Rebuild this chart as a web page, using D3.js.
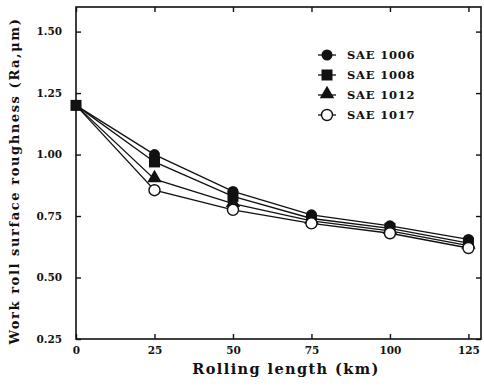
<!DOCTYPE html>
<html>
<head>
<meta charset="utf-8">
<script src="https://cdn.jsdelivr.net/npm/d3@7"></script>
<style>
  body { margin: 0; background: #fff; }
  svg { display: block; }
  text { font-family: "DejaVu Serif", "Liberation Serif", serif; font-weight: bold; fill: #111; }
</style>
</head>
<body>
<script>
var km = [0, 25, 50, 75, 100, 125]
var sae1006 = [1.20, 1.00, 0.85, 0.755, 0.71, 0.655]
var sae1008 = [1.20, 0.97, 0.83, 0.74, 0.70, 0.64]
var sae1012 = [1.20, 0.90, 0.80, 0.73, 0.69, 0.63]
var sae1017 = [1.20, 0.855, 0.775, 0.72, 0.68, 0.62]
var seriesNames = ['SAE 1006', 'SAE 1008', 'SAE 1012', 'SAE 1017']
var seriesSymbols = ['circle', 'square', 'triangle', 'open']
var xTicks = [0, 25, 50, 75, 100, 125]
var yTicks = [0.25, 0.50, 0.75, 1.00, 1.25, 1.50]

var w = 484
  , h = 390
  , pLeft = 76
  , pRight = 481
  , pTop = 7
  , pBottom = 339
  , svg = d3.select('body').append('svg').attr('width', w).attr('height', h)

var x = d3.scaleLinear().domain([0, 129]).range([pLeft, pRight])
var y = d3.scaleLinear().domain([0.25, 1.60]).range([pBottom, pTop])

// frame
svg.append('rect')
  .attr('x', pLeft).attr('y', pTop)
  .attr('width', pRight - pLeft).attr('height', pBottom - pTop)
  .attr('fill', 'none').attr('stroke', '#111').attr('stroke-width', 1.6)

// axes, ticks inward on all four sides
svg.append('g').attr('transform', 'translate(0,' + pBottom + ')')
  .call(d3.axisBottom(x).tickValues(xTicks).tickSize(-5).tickPadding(8).tickFormat(d3.format('d')))
svg.append('g').attr('transform', 'translate(0,' + pTop + ')')
  .call(d3.axisTop(x).tickValues(xTicks).tickSize(-5).tickFormat(''))
svg.append('g').attr('transform', 'translate(' + pLeft + ',0)')
  .call(d3.axisLeft(y).tickValues(yTicks).tickSize(-5).tickPadding(14).tickFormat(d3.format('.2f')))
svg.append('g').attr('transform', 'translate(' + pRight + ',0)')
  .call(d3.axisRight(y).tickValues(yTicks).tickSize(-5).tickFormat(''))

svg.selectAll('.domain').remove()
svg.selectAll('.tick line').attr('stroke', '#111').attr('stroke-width', 1.4)
svg.selectAll('.tick text').style('font-size', '10.5px').attr('fill', '#111')

// axis titles
svg.append('text')
  .attr('x', 286).attr('y', 374)
  .attr('text-anchor', 'middle')
  .style('font-size', '14.5px').style('letter-spacing', '1.4px')
  .text('Rolling length (km)')

svg.append('text')
  .attr('transform', 'translate(19,' + 181 + ') rotate(-90)')
  .attr('text-anchor', 'middle')
  .style('font-size', '13px').style('letter-spacing', '1.6px')
  .text('Work roll surface roughness (Ra,\u03bcm)')

// series
var all = [sae1006, sae1008, sae1012, sae1017]
var line = d3.line()
  .x(function(d, i){ return x(km[i]) })
  .y(function(d){ return y(d) })

svg.selectAll('path.series').data(all)
  .enter().append('path').attr('class', 'series')
  .attr('d', line)
  .attr('fill', 'none').attr('stroke', '#111').attr('stroke-width', 1.3)

function marker(g, sym, cx, cy){
  if(sym == 'circle')
    g.append('circle').attr('cx', cx).attr('cy', cy).attr('r', 5.5).attr('fill', '#111')
  else if(sym == 'square')
    g.append('rect').attr('x', cx - 5.5).attr('y', cy - 5.5).attr('width', 11).attr('height', 11).attr('fill', '#111')
  else if(sym == 'triangle')
    g.append('path').attr('d', d3.symbol().type(d3.symbolTriangle).size(90)()).attr('transform', 'translate(' + [cx, cy - 1] + ')').attr('fill', '#111')
  else
    g.append('circle').attr('cx', cx).attr('cy', cy).attr('r', 5.5).attr('fill', '#fff').attr('stroke', '#111').attr('stroke-width', 1.4)
}

var mg = svg.append('g')
all.forEach(function(s, k){
  s.forEach(function(v, i){
    if(i == 0 && k != 1) return
    marker(mg, seriesSymbols[k], x(km[i]), y(v))
  })
})

// legend
var lg = svg.append('g')
seriesNames.forEach(function(name, k){
  var ly = 55 + k * 20
  lg.append('line').attr('x1', 318).attr('x2', 336).attr('y1', ly).attr('y2', ly)
    .attr('stroke', '#111').attr('stroke-width', 1.3)
  marker(lg, seriesSymbols[k], 327, ly)
  lg.append('text').attr('x', 347).attr('y', ly + 4)
    .style('font-size', '11.5px').style('letter-spacing', '0.8px')
    .text(name)
})
</script>
</body>
</html>
